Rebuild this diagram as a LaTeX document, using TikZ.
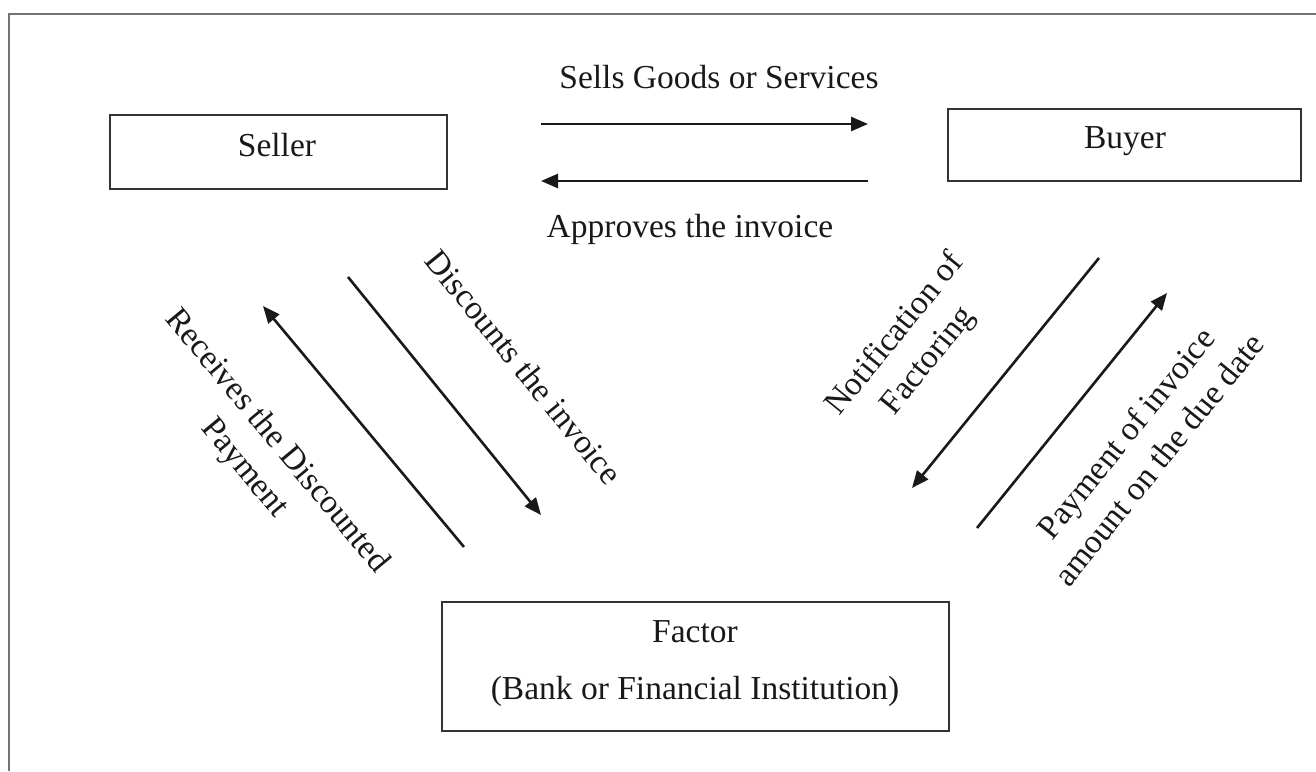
\documentclass[tikz,border=0pt]{standalone}
\usepackage{fontspec}
\setmainfont{Liberation Serif}
\usetikzlibrary{arrows.meta}
\tikzset{
  box/.style={draw=black!80, line width=2.4pt, rectangle, inner sep=0pt},
  lbl/.style={font=\fontsize{33.5}{42}\selectfont, inner sep=0pt, text=black!90},
  flow/.style={line width=2.6pt, draw=black!90, -{Triangle[length=17pt,width=14pt]}},
  frame/.style={line width=2pt, draw=black!55}
}
\begin{document}
\begin{tikzpicture}[x=1pt,y=-1pt]
\useasboundingbox (0,0) rectangle (1316,771);
\fill[white] (0,0) rectangle (1316,771);
% outer frame (only top and left edges are visible)
\draw[frame] (9,771) -- (9,14) -- (1316,14);

% boxes
\node[box, minimum width=337pt, minimum height=74pt] (seller) at (278.5,152) {};
\node[box, minimum width=353pt, minimum height=72pt] (buyer) at (1124.5,145) {};
\node[box, minimum width=507pt, minimum height=129pt] (factor) at (695.5,666.5) {};

% box texts
\node[lbl, anchor=base] (sellert) at (277,156) {Seller};
\node[lbl, anchor=base] (buyert) at (1125,148) {Buyer};
\node[lbl, anchor=base] (factort) at (695,642) {Factor};
\node[lbl, anchor=base] (factors) at (695,699) {(Bank or Financial Institution)};

% horizontal arrows
\coordinate (h1s) at (541,124);
\coordinate (h1e) at (868,124);
\coordinate (h2s) at (868,181);
\coordinate (h2e) at (541,181);
\draw[flow] (h1s) -- (h1e);
\draw[flow] (h2s) -- (h2e);
\node[lbl, anchor=base] (sells) at (719,88) {Sells Goods or Services};
\node[lbl, anchor=base] (approves) at (690,237) {Approves the invoice};

% left diagonal arrows
\coordinate (r1s) at (464,547);
\coordinate (r1e) at (263,306);
\coordinate (d1s) at (348,277);
\coordinate (d1e) at (541,515);
\draw[flow] (r1s) -- (r1e);
\draw[flow] (d1s) -- (d1e);
\node[lbl, align=center, rotate=-50.3] (receives) at (260,455) {Receives the Discounted\\Payment};
\node[lbl, rotate=-51] (discounts) at (524,367) {Discounts the invoice};

% right diagonal arrows
\coordinate (n1s) at (1099,258);
\coordinate (n1e) at (912,488);
\coordinate (p1s) at (977,528);
\coordinate (p1e) at (1167,293);
\draw[flow] (n1s) -- (n1e);
\draw[flow] (p1s) -- (p1e);
\node[lbl, align=center, rotate=51] (notif) at (912,348) {Notification of\\Factoring};
\node[lbl, align=center, rotate=51] (payment) at (1142,446) {Payment of invoice\\amount on the due date};
\end{tikzpicture}
\end{document}
